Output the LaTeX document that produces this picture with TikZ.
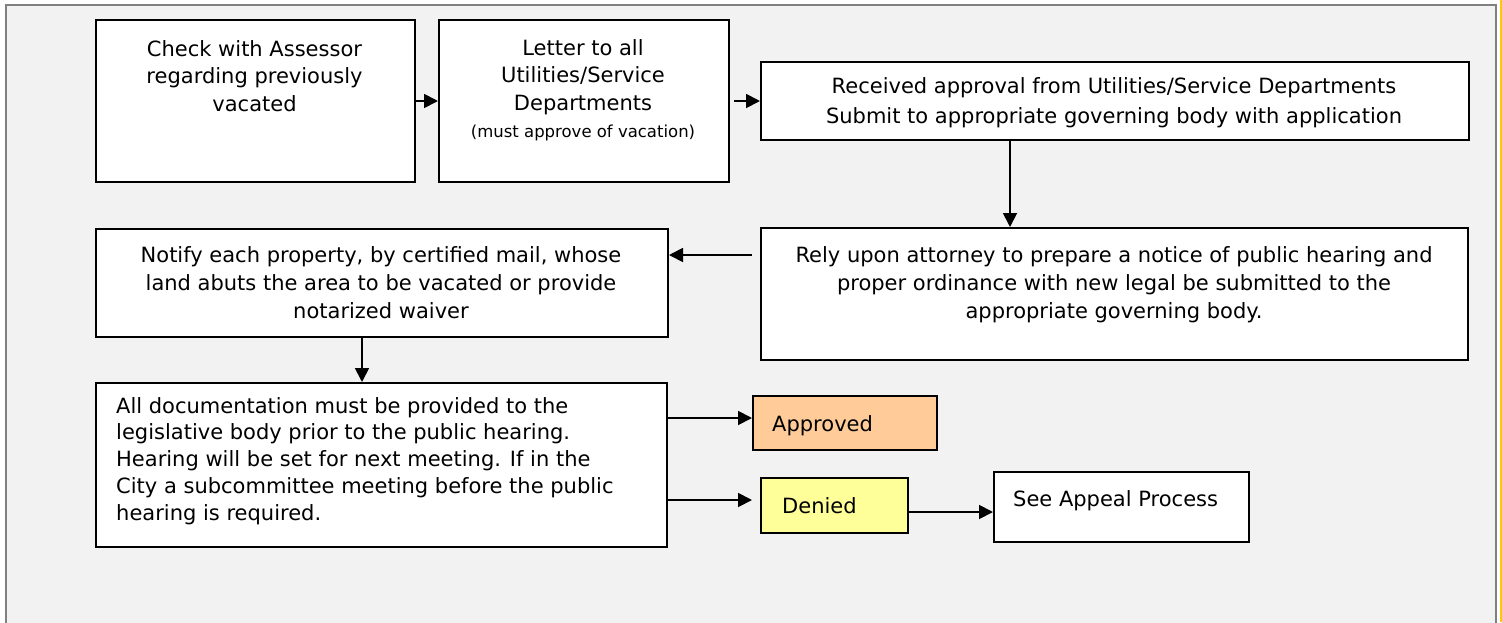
\documentclass[tikz,border=0pt]{standalone}
\usepackage{fontspec}
\setmainfont{DejaVu Sans}
\usetikzlibrary{arrows.meta}
\begin{document}
\begin{tikzpicture}[x=1pt,y=-1pt,
  box/.style={draw=black,line width=2pt,fill=white,anchor=north west,inner sep=0pt},
  txt/.style={inner sep=0pt,font=\fontsize{21}{27.5}\selectfont,align=center},
  smalltxt/.style={inner sep=0pt,font=\fontsize{16.5}{20}\selectfont},
  arr/.style={line width=1.8pt,-{Triangle[length=14pt,width=14pt]}}]
\useasboundingbox (0,0) rectangle (1502,622);
\fill[white] (0,0) rectangle (1502,622);
\filldraw[fill=black!5,draw=black!50,line width=2.5pt] (6,5) rectangle (1496,640);
\draw[draw={rgb,255:red,255;green,200;blue,0},line width=2pt] (1501,0) -- (1501,622);
% boxes
\node[box,minimum width=319pt,minimum height=162pt] (b1) at (95,19) {};
\node[box,minimum width=290pt,minimum height=162pt] (b2) at (438,19) {};
\node[box,minimum width=708pt,minimum height=78pt] (b3) at (760,61) {};
\node[box,minimum width=707pt,minimum height=132pt] (b4) at (760,227) {};
\node[box,minimum width=572pt,minimum height=108pt] (b5) at (95,228) {};
\node[box,minimum width=571pt,minimum height=164pt] (b6) at (95,382) {};
\node[box,fill={rgb,255:red,255;green,204;blue,153},minimum width=184pt,minimum height=54pt] (ap) at (752,395) {};
\node[box,fill={rgb,255:red,255;green,255;blue,153},minimum width=147pt,minimum height=55pt] (dn) at (760,477) {};
\node[box,minimum width=255pt,minimum height=70pt] (apl) at (993,471) {};
% texts
\node[txt,anchor=north] (t1) at (254.5,40) {Check with Assessor\\regarding previously\\vacated};
\node[txt,anchor=north] (t2) at (583,39) {Letter to all\\Utilities/Service\\Departments};
\node[smalltxt,anchor=base] (t2s) at (583,137) {(must approve of vacation)};
\node[txt,anchor=north,font=\fontsize{21}{30}\selectfont] (t3) at (1114,77) {Received approval from Utilities/Service Departments\\Submit to appropriate governing body with application};
\node[txt,anchor=north,font=\fontsize{21}{28}\selectfont] (t4) at (1114,246) {Rely upon attorney to prepare a notice of public hearing and\\proper ordinance with new legal be submitted to the\\appropriate governing body.};
\node[txt,anchor=north,font=\fontsize{21}{28}\selectfont] (t5) at (381,246) {Notify each property, by certified mail, whose\\land abuts the area to be vacated or provide\\notarized waiver};
\node[txt,anchor=north west,align=left,font=\fontsize{21}{26.75}\selectfont] (t6) at (116,397) {All documentation must be provided to the\\legislative body prior to the public hearing.\\Hearing will be set for next meeting. If in the\\City a subcommittee meeting before the public\\hearing is required.};
\node[txt,anchor=base west] (tap) at (772,431) {Approved};
\node[txt,anchor=base west] (tdn) at (782,513) {Denied};
\node[txt,anchor=base west] (tapl) at (1013,506) {See Appeal Process};
% helper coordinates
\coordinate (x3) at (1010,0);
\coordinate (y4) at (0,255);
\coordinate (x5) at (362,0);
\coordinate (y6) at (0,418);
\coordinate (y7) at (0,500);
\coordinate (y8) at (0,512);
% connectors
\draw[arr] (b1.east) -- (b2.west);
\draw[arr,shorten <=4pt] (b2.east) -- (b3.west);
\draw[arr] (b3.south -| x3) -- (b4.north -| x3);
\draw[arr,shorten <=8pt] (b4.west |- y4) -- (b5.east |- y4);
\draw[arr] (b5.south -| x5) -- (b6.north -| x5);
\draw[arr] (b6.east |- y6) -- (ap.west |- y6);
\draw[arr,shorten >=8pt] (b6.east |- y7) -- (dn.west |- y7);
\draw[arr] (dn.east |- y8) -- (apl.west |- y8);
\end{tikzpicture}
\end{document}
